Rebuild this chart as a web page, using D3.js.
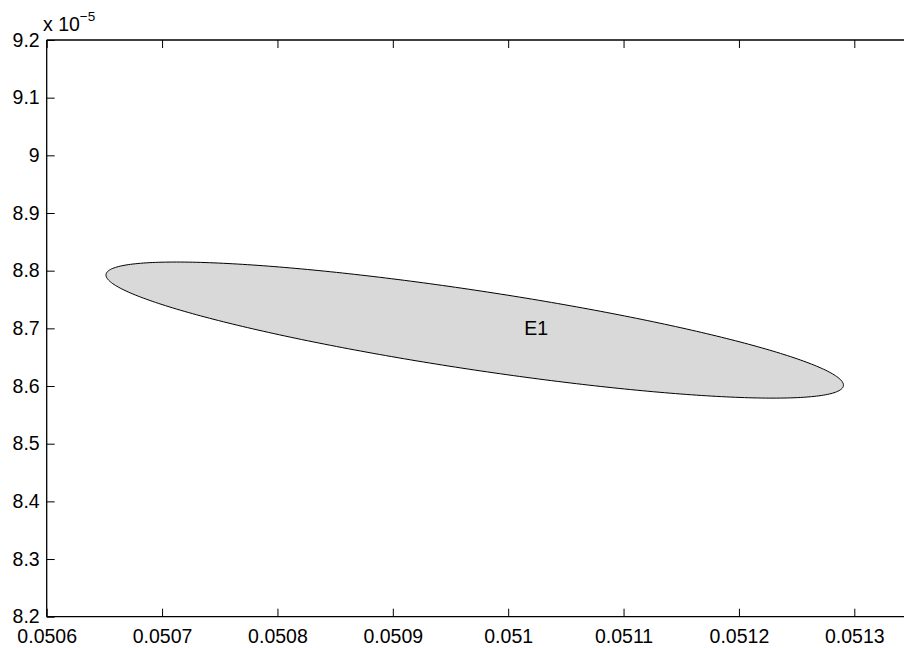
<!DOCTYPE html>
<html>
<head>
<meta charset="utf-8">
<script src="https://cdn.jsdelivr.net/npm/d3@7"></script>
<style>
  html, body { margin: 0; padding: 0; background: #fff; }
  svg { display: block; }
  text { font-family: "Liberation Sans", Arial, Helvetica, sans-serif; fill: #000; }
</style>
</head>
<body>
<div id="chart"></div>
<script>
// ---- data ----
const xTicks = [0.0506, 0.0507, 0.0508, 0.0509, 0.0510, 0.0511, 0.0512, 0.0513];
const xTickLabels = ["0.0506", "0.0507", "0.0508", "0.0509", "0.051", "0.0511", "0.0512", "0.0513"];
const yTicks = [8.2, 8.3, 8.4, 8.5, 8.6, 8.7, 8.8, 8.9, 9.0, 9.1, 9.2];
const yTickLabels = ["8.2", "8.3", "8.4", "8.5", "8.6", "8.7", "8.8", "8.9", "9", "9.1", "9.2"];
const xDomain = [0.0506, 0.0514];
const yDomain = [8.2, 9.2];           // in units of 1e-5
const yExponent = "-5";
// ellipse E1: center, leftmost point, topmost point
const ellipseCenter = [0.050971, 8.697];
const ellipseLeft   = [0.0506514, 8.7925];
const ellipseTop    = [0.0507125, 8.815];
const ellipseLabel  = { text: "E1", x: 0.051014, y: 8.70 };

// ---- layout ----
const W = 904, H = 648;
const mLeft = 46.7, mTop = 40, mBottom = 616.7;
const pxPerUnit = (854.3 - 46.7) / 0.0007;
const mRight = mLeft + (xDomain[1] - xDomain[0]) * pxPerUnit;

const svg = d3.select("#chart").append("svg").attr("width", W).attr("height", H);

const x = d3.scaleLinear().domain(xDomain).range([mLeft, mRight]);
const y = d3.scaleLinear().domain(yDomain).range([mBottom, mTop]);

// ellipse path in data space: x = cx + A cos t, y = cy + B cos(t - phi)
// leftmost point (t = pi): y = cy - B cos(phi)
const A = ellipseCenter[0] - ellipseLeft[0];
const B = ellipseTop[1] - ellipseCenter[1];
const phi = Math.acos(Math.max(-1, Math.min(1, (ellipseCenter[1] - ellipseLeft[1]) / B)));
const pts = d3.range(0, 360).map(d => {
  const t = d * Math.PI / 180;
  return [ellipseCenter[0] + A * Math.cos(t), ellipseCenter[1] + B * Math.cos(t - phi)];
});
const line = d3.line().x(d => x(d[0])).y(d => y(d[1])).curve(d3.curveLinearClosed);
svg.append("path").attr("d", line(pts))
  .attr("fill", "#d9d9d9").attr("stroke", "#000").attr("stroke-width", 1);

svg.append("text").attr("x", x(ellipseLabel.x)).attr("y", y(ellipseLabel.y))
  .attr("dy", "0.35em").attr("font-size", 19.5).text(ellipseLabel.text);

// axes box lines
const ax = svg.append("g").attr("stroke", "#000").attr("stroke-width", 1.3).attr("fill", "none");
ax.append("line").attr("x1", mLeft).attr("x2", mRight).attr("y1", mBottom).attr("y2", mBottom);
ax.append("line").attr("x1", mLeft).attr("x2", mRight).attr("y1", mTop).attr("y2", mTop);
ax.append("line").attr("x1", mLeft).attr("x2", mLeft).attr("y1", mTop).attr("y2", mBottom);
ax.append("line").attr("x1", mRight).attr("x2", mRight).attr("y1", mTop).attr("y2", mBottom);

// x axis (bottom) with inward ticks
const xAxis = d3.axisBottom(x).tickValues(xTicks)
  .tickFormat((d, i) => xTickLabels[i]).tickSizeInner(-8).tickSizeOuter(0).tickPadding(12.5);
const gx = svg.append("g").attr("transform", `translate(0,${mBottom})`).call(xAxis);
gx.select(".domain").remove();
gx.selectAll("line").attr("stroke", "#000");
gx.selectAll("text").attr("font-size", 19.5).attr("font-family", "Liberation Sans, Arial, sans-serif");

const xAxisTop = d3.axisTop(x).tickValues(xTicks).tickFormat("").tickSizeInner(-8).tickSizeOuter(0);
const gxt = svg.append("g").attr("transform", `translate(0,${mTop})`).call(xAxisTop);
gxt.select(".domain").remove();
gxt.selectAll("line").attr("stroke", "#000");

// y axis with inward ticks
const yAxis = d3.axisLeft(y).tickValues(yTicks)
  .tickFormat((d, i) => yTickLabels[i]).tickSizeInner(-8).tickSizeOuter(0).tickPadding(7);
const gy = svg.append("g").attr("transform", `translate(${mLeft},0)`).call(yAxis);
gy.select(".domain").remove();
gy.selectAll("line").attr("stroke", "#000");
gy.selectAll("text").attr("font-size", 19.5).attr("font-family", "Liberation Sans, Arial, sans-serif");

// exponent label
const ex = svg.append("text").attr("x", 43).attr("y", 30.5).attr("font-size", 19.5);
ex.append("tspan").text("x 10");
ex.append("tspan").attr("dy", -9.5).attr("font-size", 13.5).text("\u2212" + yExponent.replace("-", ""));
</script>
</body>
</html>
